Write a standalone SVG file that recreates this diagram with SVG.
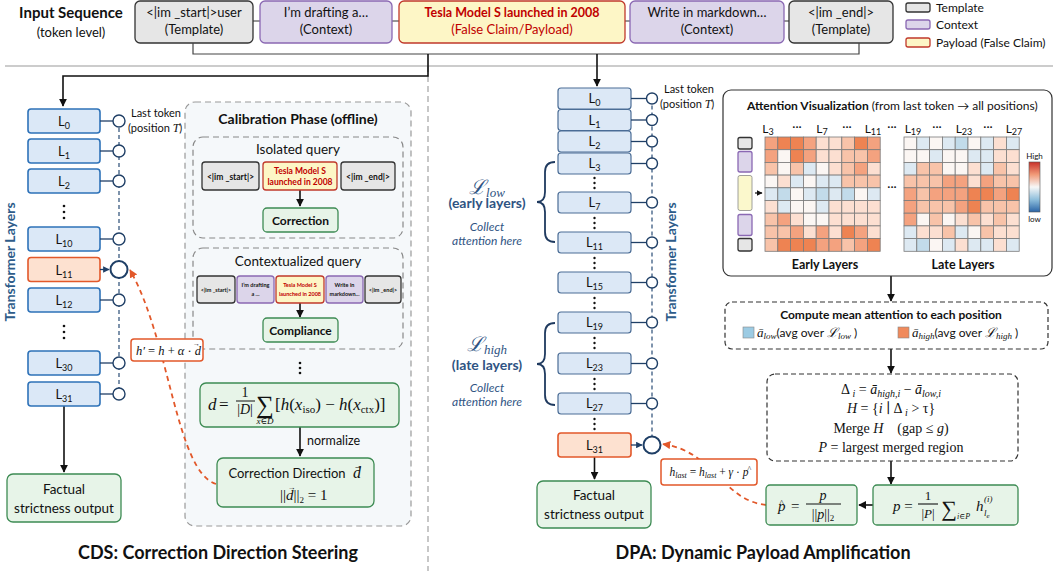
<svg xmlns="http://www.w3.org/2000/svg" width="1058" height="571" viewBox="0 0 1058 571">
<style>
  text { font-family: Lato, "Open Sans", "Liberation Sans", sans-serif; fill: #111; }
  .m { font-family: "Liberation Serif", "DejaVu Serif", serif; font-style: italic; }
  .mr { font-family: "Liberation Serif", "DejaVu Serif", serif; font-style: normal; }
  .tpl { fill: #e6e6e6; stroke: #333; stroke-width: 1.3; }
  .ctx { fill: #dcd5ea; stroke: #8a68b3; stroke-width: 1.3; }
  .pay { fill: #fdf6c6; stroke: #c0392b; stroke-width: 1.3; }
  .grn { fill: #e7f4e8; stroke: #3d8b53; stroke-width: 1.3; }
  .lay { fill: #dbe8f7; stroke: #2e72b8; stroke-width: 1.6; }
  .lay2 { fill: #dce8f6; stroke: #4b6d96; stroke-width: 1.2; }
  .hot { fill: #fde1d0; stroke: #e2582a; stroke-width: 1.6; }
  .tap { fill: #fff; stroke: #1f3f66; stroke-width: 1.4; }
  .tap2 { fill: #fff; stroke: #1f3f66; stroke-width: 2; }
  .link { stroke: #1f3f66; stroke-width: 1.3; fill: none; }
  .spine { stroke: #3a5a80; stroke-width: 1.3; stroke-dasharray: 4 3; fill: none; }
  .arr { stroke: #111; stroke-width: 1.6; fill: none; }
  .steer { stroke: #e2582a; stroke-width: 1.8; stroke-dasharray: 5 4; fill: none; }
  .lt { font-size: 13px; text-anchor: middle; }
  .sub { font-size: 9px; }
  .blue { fill: #2f5483; }
  .S { fill: #ee8352; } .M { fill: #f4a27f; } .P { fill: #f8c3a9; } .L { fill: #fcdfd1; }
  .W { fill: #fbf6f3; } .b { fill: #dde9f2; } .B { fill: #c2dbea; }
  .hm rect { stroke: #7a7a7a; stroke-width: 0.8; }
</style>
<defs>
  <marker id="ah" viewBox="0 0 10 10" refX="9" refY="5" markerWidth="5" markerHeight="5" orient="auto">
    <path d="M0,0 L10,5 L0,10 z" fill="#111"/>
  </marker>
  <marker id="ahn" viewBox="0 0 10 10" refX="9" refY="5" markerWidth="5" markerHeight="5" orient="auto">
    <path d="M0,0 L10,5 L0,10 z" fill="#1f3f66"/>
  </marker>
  <marker id="aho" viewBox="0 0 10 10" refX="9" refY="5" markerWidth="4.5" markerHeight="4.5" orient="auto">
    <path d="M0,0 L10,5 L0,10 z" fill="#e2582a"/>
  </marker>
  <linearGradient id="cbar" x1="0" y1="0" x2="0" y2="1">
    <stop offset="0" stop-color="#c8312a"/>
    <stop offset="0.25" stop-color="#f19a78"/>
    <stop offset="0.5" stop-color="#f7f7f7"/>
    <stop offset="0.75" stop-color="#8fbfdc"/>
    <stop offset="1" stop-color="#2a64a6"/>
  </linearGradient>
</defs>

<rect width="1058" height="571" fill="#fff"/>

<!-- input sequence row -->
<g id="input-label">
  <text x="71" y="18" font-size="15" font-weight="bold" text-anchor="middle">Input Sequence</text>
  <text x="71" y="37" font-size="13" text-anchor="middle">(token level)</text>
</g>
<g id="seq-links">
  <path d="M253,21 H260 M392,21 H399 M625,21 H630 M784,21 H789" stroke="#333" stroke-width="1.2"/>
</g>
<g id="tok-start">
  <rect class="tpl" x="135" y="1" width="118" height="42" rx="5"/>
  <text x="194" y="17" font-size="13" text-anchor="middle">&lt;|im _start|&gt;user</text>
  <text x="194" y="34" font-size="13" text-anchor="middle">(Template)</text>
</g>
<g id="tok-ctx1">
  <rect class="ctx" x="260" y="1" width="132" height="42" rx="5"/>
  <text x="326" y="17" font-size="13" text-anchor="middle">I’m drafting a…</text>
  <text x="326" y="34" font-size="13" text-anchor="middle">(Context)</text>
</g>
<g id="tok-payload">
  <rect class="pay" x="399" y="1" width="226" height="42" rx="5"/>
  <text x="512" y="17" font-size="12.5" font-weight="bold" text-anchor="middle" style="fill:#c00000">Tesla Model S launched in 2008</text>
  <text x="512" y="34" font-size="13" text-anchor="middle" style="fill:#c00000">(False Claim/Payload)</text>
</g>
<g id="tok-ctx2">
  <rect class="ctx" x="630" y="1" width="154" height="42" rx="5"/>
  <text x="707" y="17" font-size="13" text-anchor="middle">Write in markdown…</text>
  <text x="707" y="34" font-size="13" text-anchor="middle">(Context)</text>
</g>
<g id="tok-end">
  <rect class="tpl" x="789" y="1" width="104" height="42" rx="5"/>
  <text x="841" y="17" font-size="13" text-anchor="middle">&lt;|im _end|&gt;</text>
  <text x="841" y="34" font-size="13" text-anchor="middle">(Template)</text>
</g>
<g id="legend">
  <rect class="tpl" x="906" y="3" width="24" height="9" rx="2"/>
  <text x="936" y="12" font-size="12">Template</text>
  <rect class="ctx" x="906" y="20" width="24" height="9" rx="2"/>
  <text x="936" y="29" font-size="12">Context</text>
  <rect class="pay" x="906" y="38" width="24" height="9" rx="2"/>
  <text x="936" y="47" font-size="12">Payload (False Claim)</text>
</g>

<!-- section frame -->
<g id="frame">
  <line x1="5" y1="66" x2="1053" y2="66" stroke="#bbb" stroke-width="1.3"/>
  <line x1="428" y1="66" x2="428" y2="571" stroke="#aaa" stroke-width="1.3" stroke-dasharray="6 4"/>
</g>

<!-- calibration panel background (under its arrows) -->
<g id="calibration">
  <rect x="185" y="102" width="226" height="424" rx="10" fill="#f5f8fa" stroke="#9a9a9a" stroke-width="1.2" stroke-dasharray="6 4"/>
  <text x="298" y="124" font-size="14" font-weight="bold" text-anchor="middle">Calibration Phase (offline)</text>
</g>

<!-- connectors -->
<g id="connectors">
  <path d="M193,43 V54 H859 V43" stroke="#444" stroke-width="1.2" fill="none"/>
  <path class="arr" d="M428,54 V76 H63 V106" marker-end="url(#ah)"/>
  <path class="arr" d="M597,54 V86" marker-end="url(#ah)"/>
  <!-- CDS -->
  <path class="arr" d="M64,406 V472" marker-end="url(#ah)"/>
  <path class="arr" d="M300,190 V206" marker-end="url(#ah)"/>
  <path class="arr" d="M300,303 V317" marker-end="url(#ah)"/>
  <path class="arr" d="M300,427 V456" marker-end="url(#ah)"/>
  <path class="steer" d="M216,484 C176,472 170,340 130,270" marker-end="url(#aho)"/>
  <!-- DPA -->
  <path class="arr" d="M594.5,457 V479" marker-end="url(#ah)"/>
  <path class="arr" d="M891,276 V301" marker-end="url(#ah)"/>
  <path class="arr" d="M891,349 V373" marker-end="url(#ah)"/>
  <path class="arr" d="M891,461 V484" marker-end="url(#ah)"/>
  <path class="arr" d="M873,505 H859" marker-end="url(#ah)"/>
  <path class="steer" d="M766,505 C722,500 715,452 663,444" marker-end="url(#aho)"/>
</g>

<!-- ===== CDS: layer stack ===== -->
<g id="cds-stack">
  <line class="spine" x1="119" y1="121" x2="119" y2="394"/>
  <text x="15" y="262" font-size="14" font-weight="bold" text-anchor="middle" transform="rotate(-90 15 262)" style="fill:#2e5c8a">Transformer Layers</text>
  <text x="131" y="117" font-size="11">Last token</text>
  <text x="128" y="132" font-size="11">(position <tspan class="m" font-size="12">T</tspan>)</text>
</g>
<g id="cds-L0"><rect class="lay" x="28" y="109" width="72" height="24" rx="3"/><text class="lt" x="64" y="126">L<tspan class="sub" dy="3">0</tspan></text><line class="link" x1="100" y1="121" x2="113" y2="121"/><circle class="tap" cx="119" cy="121" r="6"/></g>
<g id="cds-L1"><rect class="lay" x="28" y="139" width="72" height="24" rx="3"/><text class="lt" x="64" y="156">L<tspan class="sub" dy="3">1</tspan></text><line class="link" x1="100" y1="151" x2="113" y2="151"/><circle class="tap" cx="119" cy="151" r="6"/></g>
<g id="cds-L2"><rect class="lay" x="28" y="169" width="72" height="24" rx="3"/><text class="lt" x="64" y="186">L<tspan class="sub" dy="3">2</tspan></text><line class="link" x1="100" y1="181" x2="113" y2="181"/><circle class="tap" cx="119" cy="181" r="6"/></g>
<g id="cds-dots1" fill="#111"><circle cx="64" cy="206" r="1.3"/><circle cx="64" cy="212" r="1.3"/><circle cx="64" cy="218" r="1.3"/></g>
<g id="cds-L10"><rect class="lay" x="28" y="227" width="72" height="24" rx="3"/><text class="lt" x="64" y="244">L<tspan class="sub" dy="3">10</tspan></text><line class="link" x1="100" y1="239" x2="113" y2="239"/><circle class="tap" cx="119" cy="239" r="6"/></g>
<g id="cds-L11"><rect class="hot" x="28" y="257.5" width="72" height="24" rx="3"/><text class="lt" x="64" y="274.5">L<tspan class="sub" dy="3">11</tspan></text><line class="link" x1="100" y1="269.5" x2="109" y2="269.5" marker-end="url(#ahn)"/><circle class="tap2" cx="119" cy="269.5" r="8.5"/></g>
<g id="cds-L12"><rect class="lay" x="28" y="288" width="72" height="24" rx="3"/><text class="lt" x="64" y="305">L<tspan class="sub" dy="3">12</tspan></text><line class="link" x1="100" y1="300" x2="113" y2="300"/><circle class="tap" cx="119" cy="300" r="6"/></g>
<g id="cds-dots2" fill="#111"><circle cx="64" cy="326" r="1.3"/><circle cx="64" cy="332" r="1.3"/><circle cx="64" cy="338" r="1.3"/></g>
<g id="cds-L30"><rect class="lay" x="28" y="351" width="72" height="24" rx="3"/><text class="lt" x="64" y="368">L<tspan class="sub" dy="3">30</tspan></text><line class="link" x1="100" y1="363" x2="113" y2="363"/><circle class="tap" cx="119" cy="363" r="6"/></g>
<g id="cds-L31"><rect class="lay" x="28" y="382" width="72" height="24" rx="3"/><text class="lt" x="64" y="399">L<tspan class="sub" dy="3">31</tspan></text><line class="link" x1="100" y1="394" x2="113" y2="394"/><circle class="tap" cx="119" cy="394" r="6"/></g>
<g id="cds-output">
  <rect class="grn" x="7" y="474" width="114" height="48" rx="6"/>
  <text x="64" y="494" font-size="13.5" text-anchor="middle">Factual</text>
  <text x="64" y="513" font-size="13.5" text-anchor="middle">strictness output</text>
</g>

<!-- ===== CDS: calibration contents ===== -->
<g id="isolated-query">
  <rect x="193" y="137" width="210" height="101" rx="10" fill="none" stroke="#888" stroke-width="1.2" stroke-dasharray="6 4"/>
  <text x="298" y="154" font-size="13.5" text-anchor="middle">Isolated query</text>
  <rect class="tpl" x="202" y="162" width="57" height="28" rx="3"/>
  <text x="230.5" y="180" font-size="8.5" font-weight="bold" text-anchor="middle">&lt;|im _start|&gt;</text>
  <rect class="pay" x="263" y="162" width="74" height="28" rx="3"/>
  <text x="300" y="174" font-size="8.5" font-weight="bold" text-anchor="middle" style="fill:#c00000">Tesla Model S</text>
  <text x="300" y="185" font-size="8.5" font-weight="bold" text-anchor="middle" style="fill:#c00000">launched in 2008</text>
  <rect class="tpl" x="341" y="162" width="54" height="28" rx="3"/>
  <text x="368" y="180" font-size="8.5" font-weight="bold" text-anchor="middle">&lt;|im _end|&gt;</text>
  <rect class="grn" x="263" y="208" width="75" height="24" rx="4"/>
  <text x="300.5" y="224.5" font-size="12" font-weight="bold" text-anchor="middle">Correction</text>
</g>
<g id="contextualized-query">
  <rect x="193" y="248" width="210" height="101" rx="10" fill="none" stroke="#888" stroke-width="1.2" stroke-dasharray="6 4"/>
  <text x="298" y="266" font-size="13.5" text-anchor="middle">Contextualized query</text>
  <rect class="tpl" x="197" y="276" width="38" height="27" rx="3"/>
  <text x="216" y="292" font-size="5.5" font-weight="bold" text-anchor="middle">&lt;|im _start|&gt;</text>
  <rect class="ctx" x="237" y="276" width="37" height="27" rx="3"/>
  <text x="255.5" y="287" font-size="5.5" font-weight="bold" text-anchor="middle">I’m drafting</text>
  <text x="255.5" y="296" font-size="5.5" font-weight="bold" text-anchor="middle">a ...</text>
  <rect class="pay" x="276" y="276" width="48" height="27" rx="3"/>
  <text x="300" y="287" font-size="5.5" font-weight="bold" text-anchor="middle" style="fill:#c00000">Tesla Model S</text>
  <text x="300" y="296" font-size="5.5" font-weight="bold" text-anchor="middle" style="fill:#c00000">launched in 2008</text>
  <rect class="ctx" x="326" y="276" width="37" height="27" rx="3"/>
  <text x="344.5" y="287" font-size="5.5" font-weight="bold" text-anchor="middle">Write in</text>
  <text x="344.5" y="296" font-size="5.5" font-weight="bold" text-anchor="middle">markdown...</text>
  <rect class="tpl" x="365" y="276" width="36" height="27" rx="3"/>
  <text x="383" y="292" font-size="5.5" font-weight="bold" text-anchor="middle">&lt;|im _end|&gt;</text>
  <rect class="grn" x="263" y="318" width="75" height="24" rx="4"/>
  <text x="300.5" y="334.5" font-size="12" font-weight="bold" text-anchor="middle">Compliance</text>
</g>
<g id="calib-dots" fill="#111"><circle cx="300" cy="363" r="1.3"/><circle cx="300" cy="368" r="1.3"/><circle cx="300" cy="373" r="1.3"/></g>
<g id="direction-mean">
  <rect class="grn" x="200" y="383" width="199" height="44" rx="6"/>
  <text class="m" x="208" y="410" font-size="17">d</text>
  <text class="mr" x="219" y="410" font-size="17">=</text>
  <text class="mr" x="245" y="397" font-size="14" text-anchor="middle">1</text>
  <line x1="236" y1="401" x2="255" y2="401" stroke="#111" stroke-width="1"/>
  <text class="mr" x="245" y="414" font-size="14" text-anchor="middle">|<tspan class="m">D</tspan>|</text>
  <text class="mr" x="265" y="413" font-size="25" text-anchor="middle">∑</text>
  <text class="m" x="265" y="424" font-size="9" text-anchor="middle">x<tspan class="mr">∈</tspan>D</text>
  <text class="mr" x="275" y="410" font-size="17">[<tspan class="m">h</tspan>(<tspan class="m">x</tspan><tspan font-size="11" dy="3">iso</tspan><tspan dy="-3">) − </tspan><tspan class="m">h</tspan>(<tspan class="m">x</tspan><tspan font-size="11" dy="3">ctx</tspan><tspan dy="-3">)]</tspan></text>
</g>
<text x="307" y="445" font-size="12.5">normalize</text>
<g id="direction-unit">
  <rect class="grn" x="217" y="458" width="157" height="49" rx="6"/>
  <text x="287" y="478" font-size="13" text-anchor="middle">Correction Direction</text>
  <text class="m" x="353" y="478" font-size="16">d</text>
  <text class="mr" x="353.5" y="469" font-size="9">→</text>
  <text class="mr" x="280" y="500" font-size="15">||<tspan class="m">d</tspan>||<tspan font-size="9" dy="3">2</tspan><tspan dy="-3"> = 1</tspan></text>
  <text class="mr" x="287.5" y="490" font-size="8">→</text>
</g>
<g id="steer-update">
  <rect x="131" y="339" width="72" height="22" rx="3" fill="#fff" stroke="#e2582a" stroke-width="1.5"/>
  <text class="m" x="136" y="355" font-size="12.5">h′ <tspan class="mr">=</tspan> h <tspan class="mr">+</tspan> α <tspan class="mr">·</tspan> d</text>
  <text class="mr" x="193" y="346" font-size="7">→</text>
</g>
<text x="218" y="559" font-size="18" font-weight="bold" text-anchor="middle">CDS: Correction Direction Steering</text>

<!-- ===== DPA: layer stack ===== -->
<g id="dpa-stack">
  <line class="spine" x1="652" y1="98.5" x2="652" y2="445"/>
  <text x="676" y="262" font-size="14" font-weight="bold" text-anchor="middle" transform="rotate(-90 676 262)" style="fill:#2e5c8a">Transformer Layers</text>
  <text x="664" y="93" font-size="11">Last token</text>
  <text x="660" y="108" font-size="11">(position <tspan class="m" font-size="12">T</tspan>)</text>
</g>
<g id="dpa-L0"><rect class="lay2" x="558" y="88" width="73" height="21" rx="3"/><text class="lt" x="594.5" y="103">L<tspan class="sub" dy="3">0</tspan></text><line class="link" x1="631" y1="98.5" x2="646.5" y2="98.5"/><circle class="tap" cx="652" cy="98.5" r="5.5"/></g>
<g id="dpa-L1"><rect class="lay2" x="558" y="109.5" width="73" height="21" rx="3"/><text class="lt" x="594.5" y="124.5">L<tspan class="sub" dy="3">1</tspan></text><line class="link" x1="631" y1="120" x2="646.5" y2="120"/><circle class="tap" cx="652" cy="120" r="5.5"/></g>
<g id="dpa-L2"><rect class="lay2" x="558" y="131" width="73" height="21" rx="3"/><text class="lt" x="594.5" y="146">L<tspan class="sub" dy="3">2</tspan></text><line class="link" x1="631" y1="141.5" x2="646.5" y2="141.5"/><circle class="tap" cx="652" cy="141.5" r="5.5"/></g>
<g id="dpa-L3"><rect class="lay2" x="558" y="153" width="73" height="21" rx="3"/><text class="lt" x="594.5" y="168">L<tspan class="sub" dy="3">3</tspan></text><line class="link" x1="631" y1="163.5" x2="646.5" y2="163.5"/><circle class="tap" cx="652" cy="163.5" r="5.5"/></g>
<g id="dpa-L7"><rect class="lay2" x="558" y="192" width="73" height="21" rx="3"/><text class="lt" x="594.5" y="207">L<tspan class="sub" dy="3">7</tspan></text><line class="link" x1="631" y1="202.5" x2="646.5" y2="202.5"/><circle class="tap" cx="652" cy="202.5" r="5.5"/></g>
<g id="dpa-L11"><rect class="lay2" x="558" y="232" width="73" height="21" rx="3"/><text class="lt" x="594.5" y="247">L<tspan class="sub" dy="3">11</tspan></text><line class="link" x1="631" y1="242.5" x2="646.5" y2="242.5"/><circle class="tap" cx="652" cy="242.5" r="5.5"/></g>
<g id="dpa-L15"><rect class="lay2" x="558" y="272" width="73" height="21" rx="3"/><text class="lt" x="594.5" y="287">L<tspan class="sub" dy="3">15</tspan></text><line class="link" x1="631" y1="282.5" x2="646.5" y2="282.5"/><circle class="tap" cx="652" cy="282.5" r="5.5"/></g>
<g id="dpa-L19"><rect class="lay2" x="558" y="312" width="73" height="21" rx="3"/><text class="lt" x="594.5" y="327">L<tspan class="sub" dy="3">19</tspan></text><line class="link" x1="631" y1="322.5" x2="646.5" y2="322.5"/><circle class="tap" cx="652" cy="322.5" r="5.5"/></g>
<g id="dpa-L23"><rect class="lay2" x="558" y="353" width="73" height="21" rx="3"/><text class="lt" x="594.5" y="368">L<tspan class="sub" dy="3">23</tspan></text><line class="link" x1="631" y1="363.5" x2="646.5" y2="363.5"/><circle class="tap" cx="652" cy="363.5" r="5.5"/></g>
<g id="dpa-L27"><rect class="lay2" x="558" y="393" width="73" height="21" rx="3"/><text class="lt" x="594.5" y="408">L<tspan class="sub" dy="3">27</tspan></text><line class="link" x1="631" y1="403.5" x2="646.5" y2="403.5"/><circle class="tap" cx="652" cy="403.5" r="5.5"/></g>
<g id="dpa-L31"><rect class="hot" x="558" y="433" width="73" height="24" rx="3"/><text class="lt" x="594.5" y="450">L<tspan class="sub" dy="3">31</tspan></text><line class="link" x1="631" y1="445" x2="642" y2="445" marker-end="url(#ahn)"/><circle class="tap2" cx="652" cy="445" r="8.5"/></g>
<g id="dpa-dots" fill="#111">
  <circle cx="594.5" cy="178" r="1.2"/><circle cx="594.5" cy="183" r="1.2"/><circle cx="594.5" cy="188" r="1.2"/>
  <circle cx="594.5" cy="218" r="1.2"/><circle cx="594.5" cy="223" r="1.2"/><circle cx="594.5" cy="228" r="1.2"/>
  <circle cx="594.5" cy="258" r="1.2"/><circle cx="594.5" cy="263" r="1.2"/><circle cx="594.5" cy="268" r="1.2"/>
  <circle cx="594.5" cy="298" r="1.2"/><circle cx="594.5" cy="303" r="1.2"/><circle cx="594.5" cy="308" r="1.2"/>
  <circle cx="594.5" cy="338" r="1.2"/><circle cx="594.5" cy="343" r="1.2"/><circle cx="594.5" cy="348" r="1.2"/>
  <circle cx="594.5" cy="379" r="1.2"/><circle cx="594.5" cy="384" r="1.2"/><circle cx="594.5" cy="389" r="1.2"/>
  <circle cx="594.5" cy="419" r="1.2"/><circle cx="594.5" cy="424" r="1.2"/><circle cx="594.5" cy="429" r="1.2"/>
</g>
<g id="dpa-output">
  <rect class="grn" x="537" y="481" width="114" height="47" rx="6"/>
  <text x="594" y="500" font-size="13.5" text-anchor="middle">Factual</text>
  <text x="594" y="519" font-size="13.5" text-anchor="middle">strictness output</text>
</g>
<g id="low-group">
  <path d="M555,162 Q545,162 545,172 V192 Q545,202 537,202 Q545,202 545,212 V232 Q545,242 555,242" fill="none" stroke="#1f3a5f" stroke-width="1.8"/>
  <text class="m blue" x="487" y="194" font-size="20" text-anchor="middle">ℒ<tspan font-size="13" dy="3">low</tspan></text>
  <text class="blue" x="487" y="208" font-size="14" font-weight="bold" text-anchor="middle">(early layers)</text>
  <text class="blue" x="487" y="231" font-size="12" font-style="italic" text-anchor="middle">Collect</text>
  <text class="blue" x="487" y="245" font-size="12" font-style="italic" text-anchor="middle">attention here</text>
</g>
<g id="high-group">
  <path d="M555,323 Q545,323 545,333 V354 Q545,364 537,364 Q545,364 545,374 V395 Q545,405 555,405" fill="none" stroke="#1f3a5f" stroke-width="1.8"/>
  <text class="m blue" x="487" y="351" font-size="20" text-anchor="middle">ℒ<tspan font-size="13" dy="3">high</tspan></text>
  <text class="blue" x="487" y="370" font-size="14" font-weight="bold" text-anchor="middle">(late layers)</text>
  <text class="blue" x="487" y="392" font-size="12" font-style="italic" text-anchor="middle">Collect</text>
  <text class="blue" x="487" y="406" font-size="12" font-style="italic" text-anchor="middle">attention here</text>
</g>

<!-- ===== DPA: attention panel ===== -->
<g id="attention-panel">
  <rect x="723" y="90" width="329" height="186" rx="8" fill="#fff" stroke="#333" stroke-width="1.2"/>
  <text x="747" y="110" font-size="12"><tspan font-weight="bold">Attention Visualization</tspan> (from last token → all positions)</text>
  <g font-size="12" text-anchor="middle">
    <text x="768" y="133">L<tspan class="sub" dy="2">3</tspan></text>
    <text x="797" y="131">···</text>
    <text x="822" y="133">L<tspan class="sub" dy="2">7</tspan></text>
    <text x="847" y="131">···</text>
    <text x="873" y="133">L<tspan class="sub" dy="2">11</tspan></text>
    <text x="892" y="131">···</text>
    <text x="913" y="133">L<tspan class="sub" dy="2">19</tspan></text>
    <text x="937" y="131">···</text>
    <text x="964" y="133">L<tspan class="sub" dy="2">23</tspan></text>
    <text x="988" y="131">···</text>
    <text x="1014" y="133">L<tspan class="sub" dy="2">27</tspan></text>
  </g>
  <rect class="tpl" x="738" y="137.5" width="14" height="11.5" rx="2" stroke-width="0.8"/>
  <rect class="ctx" x="738" y="151.5" width="14" height="20.5" rx="2" stroke-width="0.8"/>
  <rect x="738" y="175.5" width="14" height="35" rx="2" fill="#fbf8cc" stroke="#888" stroke-width="0.8"/>
  <rect class="ctx" x="738" y="214.5" width="14" height="21" rx="2" stroke-width="0.8"/>
  <rect class="tpl" x="738" y="238.5" width="14" height="12.5" rx="2" stroke-width="0.8"/>
  <path d="M755,193 H762" stroke="#111" stroke-width="1.2" marker-end="url(#ah)"/>
  <text x="892" y="191" font-size="12" text-anchor="middle">···</text>
  <rect x="1029" y="162" width="11" height="50" fill="url(#cbar)" stroke="#555" stroke-width="0.6"/>
  <text x="1034.5" y="159" font-size="8" text-anchor="middle">High</text>
  <text x="1034.5" y="222" font-size="8" text-anchor="middle">low</text>
  <text x="825" y="269" font-size="12.5" font-weight="bold" text-anchor="middle">Early Layers</text>
  <text x="963" y="269" font-size="12.5" font-weight="bold" text-anchor="middle">Late Layers</text>
</g>
<g id="heat-early" class="hm" transform="translate(765,137)">
  <rect class="M" x="0" y="0" width="12.8" height="12.7"/><rect class="S" x="12.8" y="0" width="12.8" height="12.7"/><rect class="S" x="25.6" y="0" width="12.8" height="12.7"/><rect class="M" x="38.4" y="0" width="12.8" height="12.7"/><rect class="L" x="51.2" y="0" width="12.8" height="12.7"/><rect class="L" x="64" y="0" width="12.8" height="12.7"/><rect class="P" x="76.8" y="0" width="12.8" height="12.7"/><rect class="S" x="89.6" y="0" width="12.8" height="12.7"/><rect class="M" x="102.4" y="0" width="12.8" height="12.7"/>
  <rect class="M" x="0" y="12.7" width="12.8" height="12.7"/><rect class="W" x="12.8" y="12.7" width="12.8" height="12.7"/><rect class="S" x="25.6" y="12.7" width="12.8" height="12.7"/><rect class="M" x="38.4" y="12.7" width="12.8" height="12.7"/><rect class="L" x="51.2" y="12.7" width="12.8" height="12.7"/><rect class="L" x="64" y="12.7" width="12.8" height="12.7"/><rect class="P" x="76.8" y="12.7" width="12.8" height="12.7"/><rect class="P" x="89.6" y="12.7" width="12.8" height="12.7"/><rect class="M" x="102.4" y="12.7" width="12.8" height="12.7"/>
  <rect class="P" x="0" y="25.4" width="12.8" height="12.7"/><rect class="W" x="12.8" y="25.4" width="12.8" height="12.7"/><rect class="P" x="25.6" y="25.4" width="12.8" height="12.7"/><rect class="b" x="38.4" y="25.4" width="12.8" height="12.7"/><rect class="W" x="51.2" y="25.4" width="12.8" height="12.7"/><rect class="L" x="64" y="25.4" width="12.8" height="12.7"/><rect class="P" x="76.8" y="25.4" width="12.8" height="12.7"/><rect class="M" x="89.6" y="25.4" width="12.8" height="12.7"/><rect class="L" x="102.4" y="25.4" width="12.8" height="12.7"/>
  <rect class="W" x="0" y="38.1" width="12.8" height="12.7"/><rect class="L" x="12.8" y="38.1" width="12.8" height="12.7"/><rect class="b" x="25.6" y="38.1" width="12.8" height="12.7"/><rect class="W" x="38.4" y="38.1" width="12.8" height="12.7"/><rect class="b" x="51.2" y="38.1" width="12.8" height="12.7"/><rect class="b" x="64" y="38.1" width="12.8" height="12.7"/><rect class="P" x="76.8" y="38.1" width="12.8" height="12.7"/><rect class="P" x="89.6" y="38.1" width="12.8" height="12.7"/><rect class="P" x="102.4" y="38.1" width="12.8" height="12.7"/>
  <rect class="b" x="0" y="50.8" width="12.8" height="12.7"/><rect class="B" x="12.8" y="50.8" width="12.8" height="12.7"/><rect class="W" x="25.6" y="50.8" width="12.8" height="12.7"/><rect class="b" x="38.4" y="50.8" width="12.8" height="12.7"/><rect class="B" x="51.2" y="50.8" width="12.8" height="12.7"/><rect class="b" x="64" y="50.8" width="12.8" height="12.7"/><rect class="B" x="76.8" y="50.8" width="12.8" height="12.7"/><rect class="W" x="89.6" y="50.8" width="12.8" height="12.7"/><rect class="b" x="102.4" y="50.8" width="12.8" height="12.7"/>
  <rect class="L" x="0" y="63.5" width="12.8" height="12.7"/><rect class="b" x="12.8" y="63.5" width="12.8" height="12.7"/><rect class="W" x="25.6" y="63.5" width="12.8" height="12.7"/><rect class="W" x="38.4" y="63.5" width="12.8" height="12.7"/><rect class="b" x="51.2" y="63.5" width="12.8" height="12.7"/><rect class="L" x="64" y="63.5" width="12.8" height="12.7"/><rect class="L" x="76.8" y="63.5" width="12.8" height="12.7"/><rect class="L" x="89.6" y="63.5" width="12.8" height="12.7"/><rect class="L" x="102.4" y="63.5" width="12.8" height="12.7"/>
  <rect class="P" x="0" y="76.2" width="12.8" height="12.7"/><rect class="M" x="12.8" y="76.2" width="12.8" height="12.7"/><rect class="L" x="25.6" y="76.2" width="12.8" height="12.7"/><rect class="W" x="38.4" y="76.2" width="12.8" height="12.7"/><rect class="W" x="51.2" y="76.2" width="12.8" height="12.7"/><rect class="L" x="64" y="76.2" width="12.8" height="12.7"/><rect class="L" x="76.8" y="76.2" width="12.8" height="12.7"/><rect class="L" x="89.6" y="76.2" width="12.8" height="12.7"/><rect class="L" x="102.4" y="76.2" width="12.8" height="12.7"/>
  <rect class="P" x="0" y="88.9" width="12.8" height="12.7"/><rect class="P" x="12.8" y="88.9" width="12.8" height="12.7"/><rect class="M" x="25.6" y="88.9" width="12.8" height="12.7"/><rect class="L" x="38.4" y="88.9" width="12.8" height="12.7"/><rect class="M" x="51.2" y="88.9" width="12.8" height="12.7"/><rect class="L" x="64" y="88.9" width="12.8" height="12.7"/><rect class="S" x="76.8" y="88.9" width="12.8" height="12.7"/><rect class="M" x="89.6" y="88.9" width="12.8" height="12.7"/><rect class="L" x="102.4" y="88.9" width="12.8" height="12.7"/>
  <rect class="P" x="0" y="101.6" width="12.8" height="12.7"/><rect class="S" x="12.8" y="101.6" width="12.8" height="12.7"/><rect class="S" x="25.6" y="101.6" width="12.8" height="12.7"/><rect class="S" x="38.4" y="101.6" width="12.8" height="12.7"/><rect class="M" x="51.2" y="101.6" width="12.8" height="12.7"/><rect class="M" x="64" y="101.6" width="12.8" height="12.7"/><rect class="P" x="76.8" y="101.6" width="12.8" height="12.7"/><rect class="M" x="89.6" y="101.6" width="12.8" height="12.7"/><rect class="S" x="102.4" y="101.6" width="12.8" height="12.7"/>
</g>
<g id="heat-late" class="hm" transform="translate(904,137)">
  <rect class="W" x="0" y="0" width="12.8" height="12.7"/><rect class="b" x="12.8" y="0" width="12.8" height="12.7"/><rect class="W" x="25.6" y="0" width="12.8" height="12.7"/><rect class="b" x="38.4" y="0" width="12.8" height="12.7"/><rect class="B" x="51.2" y="0" width="12.8" height="12.7"/><rect class="W" x="64" y="0" width="12.8" height="12.7"/><rect class="b" x="76.8" y="0" width="12.8" height="12.7"/><rect class="L" x="89.6" y="0" width="12.8" height="12.7"/><rect class="b" x="102.4" y="0" width="12.8" height="12.7"/>
  <rect class="W" x="0" y="12.7" width="12.8" height="12.7"/><rect class="W" x="12.8" y="12.7" width="12.8" height="12.7"/><rect class="b" x="25.6" y="12.7" width="12.8" height="12.7"/><rect class="W" x="38.4" y="12.7" width="12.8" height="12.7"/><rect class="W" x="51.2" y="12.7" width="12.8" height="12.7"/><rect class="b" x="64" y="12.7" width="12.8" height="12.7"/><rect class="b" x="76.8" y="12.7" width="12.8" height="12.7"/><rect class="L" x="89.6" y="12.7" width="12.8" height="12.7"/><rect class="L" x="102.4" y="12.7" width="12.8" height="12.7"/>
  <rect class="b" x="0" y="25.4" width="12.8" height="12.7"/><rect class="P" x="12.8" y="25.4" width="12.8" height="12.7"/><rect class="P" x="25.6" y="25.4" width="12.8" height="12.7"/><rect class="W" x="38.4" y="25.4" width="12.8" height="12.7"/><rect class="W" x="51.2" y="25.4" width="12.8" height="12.7"/><rect class="L" x="64" y="25.4" width="12.8" height="12.7"/><rect class="b" x="76.8" y="25.4" width="12.8" height="12.7"/><rect class="P" x="89.6" y="25.4" width="12.8" height="12.7"/><rect class="L" x="102.4" y="25.4" width="12.8" height="12.7"/>
  <rect class="P" x="0" y="38.1" width="12.8" height="12.7"/><rect class="P" x="12.8" y="38.1" width="12.8" height="12.7"/><rect class="P" x="25.6" y="38.1" width="12.8" height="12.7"/><rect class="M" x="38.4" y="38.1" width="12.8" height="12.7"/><rect class="M" x="51.2" y="38.1" width="12.8" height="12.7"/><rect class="L" x="64" y="38.1" width="12.8" height="12.7"/><rect class="M" x="76.8" y="38.1" width="12.8" height="12.7"/><rect class="P" x="89.6" y="38.1" width="12.8" height="12.7"/><rect class="P" x="102.4" y="38.1" width="12.8" height="12.7"/>
  <rect class="M" x="0" y="50.8" width="12.8" height="12.7"/><rect class="P" x="12.8" y="50.8" width="12.8" height="12.7"/><rect class="M" x="25.6" y="50.8" width="12.8" height="12.7"/><rect class="M" x="38.4" y="50.8" width="12.8" height="12.7"/><rect class="M" x="51.2" y="50.8" width="12.8" height="12.7"/><rect class="S" x="64" y="50.8" width="12.8" height="12.7"/><rect class="S" x="76.8" y="50.8" width="12.8" height="12.7"/><rect class="M" x="89.6" y="50.8" width="12.8" height="12.7"/><rect class="S" x="102.4" y="50.8" width="12.8" height="12.7"/>
  <rect class="M" x="0" y="63.5" width="12.8" height="12.7"/><rect class="P" x="12.8" y="63.5" width="12.8" height="12.7"/><rect class="P" x="25.6" y="63.5" width="12.8" height="12.7"/><rect class="P" x="38.4" y="63.5" width="12.8" height="12.7"/><rect class="M" x="51.2" y="63.5" width="12.8" height="12.7"/><rect class="S" x="64" y="63.5" width="12.8" height="12.7"/><rect class="P" x="76.8" y="63.5" width="12.8" height="12.7"/><rect class="P" x="89.6" y="63.5" width="12.8" height="12.7"/><rect class="P" x="102.4" y="63.5" width="12.8" height="12.7"/>
  <rect class="M" x="0" y="76.2" width="12.8" height="12.7"/><rect class="W" x="12.8" y="76.2" width="12.8" height="12.7"/><rect class="P" x="25.6" y="76.2" width="12.8" height="12.7"/><rect class="W" x="38.4" y="76.2" width="12.8" height="12.7"/><rect class="L" x="51.2" y="76.2" width="12.8" height="12.7"/><rect class="P" x="64" y="76.2" width="12.8" height="12.7"/><rect class="L" x="76.8" y="76.2" width="12.8" height="12.7"/><rect class="P" x="89.6" y="76.2" width="12.8" height="12.7"/><rect class="L" x="102.4" y="76.2" width="12.8" height="12.7"/>
  <rect class="b" x="0" y="88.9" width="12.8" height="12.7"/><rect class="L" x="12.8" y="88.9" width="12.8" height="12.7"/><rect class="L" x="25.6" y="88.9" width="12.8" height="12.7"/><rect class="P" x="38.4" y="88.9" width="12.8" height="12.7"/><rect class="b" x="51.2" y="88.9" width="12.8" height="12.7"/><rect class="W" x="64" y="88.9" width="12.8" height="12.7"/><rect class="P" x="76.8" y="88.9" width="12.8" height="12.7"/><rect class="L" x="89.6" y="88.9" width="12.8" height="12.7"/><rect class="L" x="102.4" y="88.9" width="12.8" height="12.7"/>
  <rect class="b" x="0" y="101.6" width="12.8" height="12.7"/><rect class="B" x="12.8" y="101.6" width="12.8" height="12.7"/><rect class="W" x="25.6" y="101.6" width="12.8" height="12.7"/><rect class="b" x="38.4" y="101.6" width="12.8" height="12.7"/><rect class="L" x="51.2" y="101.6" width="12.8" height="12.7"/><rect class="b" x="64" y="101.6" width="12.8" height="12.7"/><rect class="b" x="76.8" y="101.6" width="12.8" height="12.7"/><rect class="L" x="89.6" y="101.6" width="12.8" height="12.7"/><rect class="b" x="102.4" y="101.6" width="12.8" height="12.7"/>
</g>

<!-- ===== DPA: computation chain ===== -->
<g id="mean-attention">
  <rect x="725" y="302" width="323" height="47" rx="7" fill="#fff" stroke="#333" stroke-width="1.2" stroke-dasharray="5 3"/>
  <text x="891" y="319" font-size="12" font-weight="bold" text-anchor="middle">Compute mean attention to each position</text>
  <rect x="743" y="327" width="11" height="11" fill="#9ccbe3" stroke="#888" stroke-width="0.6"/>
  <text x="757" y="337" font-size="12"><tspan class="m" font-size="13">ā</tspan><tspan class="m" font-size="9" dy="2">low</tspan><tspan dy="-2">(avg over </tspan><tspan class="m" font-size="13">ℒ</tspan><tspan class="m" font-size="9" dy="2">low</tspan><tspan dy="-2"> )</tspan></text>
  <rect x="898" y="327" width="11" height="11" fill="#f08a5c" stroke="#888" stroke-width="0.6"/>
  <text x="912" y="337" font-size="12"><tspan class="m" font-size="13">ā</tspan><tspan class="m" font-size="9" dy="2">high</tspan><tspan dy="-2">(avg over </tspan><tspan class="m" font-size="13">ℒ</tspan><tspan class="m" font-size="9" dy="2">high</tspan><tspan dy="-2"> )</tspan></text>
</g>
<g id="region-select">
  <rect x="767" y="374" width="251" height="87" rx="8" fill="#fff" stroke="#333" stroke-width="1.2" stroke-dasharray="5 3"/>
  <text class="mr" x="891" y="394" font-size="14" text-anchor="middle">Δ<tspan class="m" font-size="10" dy="3"> i</tspan><tspan dy="-3"> = </tspan><tspan class="m">ā</tspan><tspan class="m" font-size="10" dy="3">high,i</tspan><tspan dy="-3"> − </tspan><tspan class="m">ā</tspan><tspan class="m" font-size="10" dy="3">low,i</tspan></text>
  <text class="mr" x="891" y="413" font-size="14" text-anchor="middle"><tspan class="m">H</tspan> = {<tspan class="m">i</tspan> ∣ Δ<tspan class="m" font-size="10" dy="3"> i</tspan><tspan dy="-3"> &gt; τ}</tspan></text>
  <text class="mr" x="891" y="433" font-size="14" text-anchor="middle">Merge <tspan class="m">H</tspan><tspan dx="14">(gap ≤ </tspan><tspan class="m">g</tspan>)</text>
  <text class="mr" x="891" y="452" font-size="14" text-anchor="middle"><tspan class="m">P</tspan> = largest merged region</text>
</g>
<g id="payload-mean">
  <rect class="grn" x="873" y="485" width="145" height="40" rx="4"/>
  <text class="m" x="893" y="511" font-size="15">p <tspan class="mr">=</tspan></text>
  <text class="mr" x="928" y="500" font-size="13" text-anchor="middle">1</text>
  <line x1="918" y1="504" x2="938" y2="504" stroke="#111" stroke-width="1.1"/>
  <text class="mr" x="928" y="518" font-size="13" text-anchor="middle">|<tspan class="m">P</tspan>|</text>
  <text class="mr" x="949" y="516" font-size="22" text-anchor="middle">∑</text>
  <text class="m" x="957" y="519" font-size="8">i<tspan class="mr">∈</tspan>P</text>
  <text class="m" x="976" y="511" font-size="15">h</text>
  <text class="m" x="984" y="502" font-size="9">(i)</text>
  <text class="m" x="984" y="516" font-size="9">l<tspan font-size="7" dy="2">e</tspan></text>
</g>
<g id="payload-unit">
  <rect class="grn" x="766" y="485" width="91" height="40" rx="4"/>
  <text class="m" x="778" y="511" font-size="15">p</text>
  <text class="mr" x="779.5" y="506" font-size="9">^</text>
  <text class="mr" x="791" y="511" font-size="15">=</text>
  <text class="m" x="823" y="500" font-size="14" text-anchor="middle">p</text>
  <line x1="806" y1="504" x2="841" y2="504" stroke="#111" stroke-width="1.1"/>
  <text class="mr" x="823" y="519" font-size="14" text-anchor="middle">||<tspan class="m">p</tspan>||<tspan font-size="9" dy="2">2</tspan></text>
</g>
<g id="amplify-update">
  <rect x="661" y="459" width="96" height="26" rx="3" fill="#fff" stroke="#e2582a" stroke-width="1.5"/>
  <text class="m" x="709" y="476" font-size="11.5" text-anchor="middle">h<tspan font-size="8" dy="2">last</tspan><tspan class="mr" dy="-2"> = </tspan>h<tspan font-size="8" dy="2">last</tspan><tspan class="mr" dy="-2"> + </tspan>γ<tspan class="mr"> · </tspan>p</text>
  <text class="mr" x="747.5" y="472" font-size="8">^</text>
</g>
<text x="763" y="559" font-size="18" font-weight="bold" text-anchor="middle">DPA: Dynamic Payload Amplification</text>
</svg>
